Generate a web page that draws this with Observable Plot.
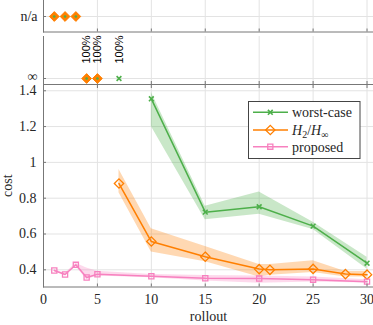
<!DOCTYPE html>
<html><head><meta charset="utf-8">
<script src="https://cdn.jsdelivr.net/npm/d3@7"></script>
<script src="https://cdn.jsdelivr.net/npm/@observablehq/plot@0.6"></script>
<style>
body{margin:0;background:#fff}
#c{position:relative;width:373px;height:325px;overflow:hidden;background:#fff}
#c svg{position:absolute;left:0}
#c svg text{font-family:"Liberation Serif",serif}
#c svg text.sans{font-family:"Liberation Sans",sans-serif}
</style></head><body><div id="c"></div>
<script>
// ---- data ----
const worstX = [10, 15, 20, 25, 30];
const worstY = [1.355, 0.722, 0.752, 0.644, 0.437];
const worstLo = [1.20, 0.68, 0.71, 0.625, 0.405];
const worstHi = [1.39, 0.755, 0.835, 0.665, 0.47];
const h2X = [7, 10, 15, 20, 21, 25, 28, 30];
const h2Y = [0.882, 0.558, 0.473, 0.404, 0.400, 0.405, 0.376, 0.373];
const h2Lo = [0.83, 0.50, 0.445, 0.36, 0.37, 0.385, 0.36, 0.36];
const h2Hi = [0.96, 0.63, 0.53, 0.43, 0.43, 0.45, 0.39, 0.39];
const propX = [1, 2, 3, 4, 5, 10, 15, 20, 25, 30];
const propY = [0.396, 0.374, 0.428, 0.357, 0.375, 0.364, 0.353, 0.351, 0.345, 0.334];
const propLo = [0.390, 0.369, 0.420, 0.345, 0.365, 0.355, 0.338, 0.325, 0.332, 0.326];
const propHi = [0.402, 0.379, 0.436, 0.410, 0.392, 0.374, 0.368, 0.366, 0.360, 0.345];
const naWorstX = [1, 2, 3];
const naH2X = [1, 2, 3];
const infWorstX = [4, 5, 7];
const infH2X = [4, 5];
const failLabels = ["100%", "100%", "100%"];
const failX = [4, 5, 7];
const xTicks = [0, 5, 10, 15, 20, 25, 30];
const yTicks = [0.4, 0.6, 0.8, 1, 1.2, 1.4];
const seriesNames = ["worst-case", "H2/H∞", "proposed"];

// ---- styling ----
const green = "#4daf4a", orange = "#ff7f00", pink = "#f781bf";
const serif = "Liberation Serif";
const sans = "Liberation Sans";
const gridC = "#e3e3e3", axisC = "#777", textC = "#262626";
const W = 373, xDom = [0, 30.6], yDom = [0.304, 1.435];
const style = {background: "transparent", color: textC, overflow: "visible"};

const rows = (xs, ys, lo, hi) => xs.map((x, i) => ({x, y: ys[i], lo: lo ? lo[i] : null, hi: hi ? hi[i] : null}));
const worst = rows(worstX, worstY, worstLo, worstHi);
const h2 = rows(h2X, h2Y, h2Lo, h2Hi);
const prop = rows(propX, propY, propLo, propHi);

const cont = document.getElementById("c");
function place(svg, t) { svg.style.top = t + "px"; cont.appendChild(svg); return svg; }

// ---- top panel: n/a ----
const topPanel = Plot.plot({
  width: W, height: 36, marginTop: 0, marginBottom: 4.5, marginLeft: 43, marginRight: 0,
  x: {domain: xDom}, y: {type: "point", domain: ["n/a"]}, style,
  marks: [
    Plot.gridX(xTicks.slice(1), {stroke: gridC, strokeOpacity: 1}),
    Plot.gridY(["n/a"], {stroke: gridC, strokeOpacity: 1}),
    Plot.frame({anchor: "left", stroke: axisC}),
    Plot.frame({anchor: "bottom", stroke: axisC}),
    Plot.axisX(xTicks, {anchor: "bottom", tickSize: -3, stroke: axisC, tickFormat: () => "", label: null}),
    Plot.axisY(["n/a"], {anchor: "left", tickSize: -3, stroke: axisC, tickPadding: 9, fontSize: 14, fontFamily: serif, fill: textC, label: null}),
    Plot.dot(naH2X, {x: d => d, y: () => "n/a", symbol: "diamond2", r: 4.4, fill: orange, stroke: orange, strokeWidth: 1}),
    Plot.dot(naWorstX, {x: d => d, y: () => "n/a", r: 1.3, fill: green, stroke: null})
  ]
});
place(topPanel, 0);

// ---- middle panel: infinity ----
const midPanel = Plot.plot({
  width: W, height: 56, marginTop: 4, marginBottom: 4, marginLeft: 43, marginRight: 0,
  x: {domain: xDom}, y: {type: "point", domain: ["∞"], range: [41, 51]}, style,
  marks: [
    Plot.gridX(xTicks.slice(1), {stroke: gridC, strokeOpacity: 1}),
    Plot.gridY(["∞"], {stroke: gridC, strokeOpacity: 1}),
    Plot.frame({anchor: "left", stroke: axisC}),
    Plot.frame({anchor: "bottom", stroke: axisC}),
    Plot.axisX(xTicks, {anchor: "bottom", tickSize: -3, stroke: axisC, tickFormat: () => "", label: null}),
    Plot.axisY(["∞"], {anchor: "left", tickSize: 0, tickPadding: 6, fontSize: 14, fontFamily: serif, fill: textC, dy: -1.5, label: null}),
    Plot.axisY(["∞"], {anchor: "left", tickSize: -3, stroke: axisC, tickFormat: () => "", label: null}),
    Plot.dot(infWorstX.filter(x => !infH2X.includes(x)), {x: d => d, y: () => "∞", symbol: "times", r: 2.3, stroke: green, strokeWidth: 1.6}),
    Plot.dot(infH2X, {x: d => d, y: () => "∞", symbol: "diamond2", r: 4.4, fill: orange, stroke: orange, strokeWidth: 1}),
    Plot.dot(infWorstX.filter(x => infH2X.includes(x)), {x: d => d, y: () => "∞", r: 1.3, fill: green, stroke: null}),
    Plot.text(failX, {x: d => d, y: () => "∞", text: (d, i) => failLabels[i], rotate: -90, textAnchor: "start", dy: -15,
      fontFamily: sans, fontSize: 11, fill: "#000"})
  ]
});
place(midPanel, 32);
d3.select(midPanel).selectAll("g[aria-label=text] text").classed("sans", true);

// ---- main panel ----
const mainPanel = Plot.plot({
  width: W, height: 245, marginTop: 4, marginBottom: 38.5, marginLeft: 43, marginRight: 0,
  x: {domain: xDom}, y: {domain: yDom}, style,
  marks: [
    Plot.gridX(xTicks.slice(1), {stroke: gridC, strokeOpacity: 1}),
    Plot.gridY(yTicks, {stroke: gridC, strokeOpacity: 1}),
    Plot.areaY(worst, {x: "x", y1: "lo", y2: "hi", fill: green, fillOpacity: 0.3}),
    Plot.areaY(h2, {x: "x", y1: "lo", y2: "hi", fill: orange, fillOpacity: 0.3}),
    Plot.areaY(prop, {x: "x", y1: "lo", y2: "hi", fill: pink, fillOpacity: 0.3}),
    Plot.line(worst, {x: "x", y: "y", stroke: green, strokeWidth: 1.5}),
    Plot.dot(worst, {x: "x", y: "y", symbol: "times", r: 2.3, stroke: green, strokeWidth: 1.6}),
    Plot.line(h2, {x: "x", y: "y", stroke: orange, strokeWidth: 1.5}),
    Plot.dot(h2, {x: "x", y: "y", symbol: "diamond2", r: 4.2, stroke: orange, fill: "white", fillOpacity: 0, strokeWidth: 1.3}),
    Plot.line(prop, {x: "x", y: "y", stroke: pink, strokeWidth: 1.5}),
    Plot.dot(prop, {x: "x", y: "y", symbol: "square", r: 2.9, stroke: pink, strokeWidth: 1.3}),
    Plot.frame({anchor: "left", stroke: axisC}),
    Plot.frame({anchor: "bottom", stroke: axisC}),
    Plot.frame({anchor: "top", stroke: axisC}),
    Plot.axisX(xTicks, {anchor: "bottom", tickSize: -3, stroke: axisC, tickFormat: () => "", label: null}),
    Plot.axisX(xTicks, {anchor: "top", tickSize: -3, stroke: axisC, tickFormat: () => "", label: null}),
    Plot.axisX(xTicks, {anchor: "bottom", tickSize: 0, tickPadding: 7, fontSize: 14, fontFamily: serif, fill: textC,
      label: "rollout", labelAnchor: "center", labelArrow: "none", labelOffset: 34}),
    Plot.axisY(yTicks, {anchor: "left", tickSize: -3, stroke: axisC, tickFormat: () => "", label: null}),
    Plot.axisY(yTicks, {anchor: "left", tickSize: 0, tickPadding: 7, fontSize: 14, fontFamily: serif, fill: textC, tickFormat: d => String(d),
      label: "cost", labelAnchor: "center", labelArrow: "none", labelOffset: 41})
  ]
});
place(mainPanel, 80);

// ---- legend (drawn on the main svg) ----
const sv = d3.select(mainPanel);
const lg = sv.append("g").attr("font-family", serif).attr("font-size", 14).attr("fill", textC).attr("text-anchor", "start");
lg.append("rect").attr("x", 248.5).attr("y", 21.5).attr("width", 111.5).attr("height", 57)
  .attr("fill", "white").attr("stroke", "#444").attr("stroke-width", 1);
const entries = [
  {color: green, sym: d3.symbolTimes, r: 2.3, fill: "none", sw: 1.6},
  {color: orange, sym: d3.symbolDiamond2, r: 4.2, fill: "none", sw: 1.3},
  {color: pink, sym: d3.symbolSquare, r: 2.9, fill: "none", sw: 1.3}
];
const rowY = [32.3, 50, 66.7];
entries.forEach((e, i) => {
  const y = rowY[i];
  lg.append("line").attr("x1", 253).attr("x2", 288).attr("y1", y).attr("y2", y)
    .attr("stroke", e.color).attr("stroke-width", 1.5);
  lg.append("path").attr("d", d3.symbol(e.sym, Math.PI * e.r * e.r)())
    .attr("transform", `translate(270.3,${y})`).attr("fill", e.fill)
    .attr("stroke", e.color).attr("stroke-width", e.sw);
  const t = lg.append("text").attr("x", 292).attr("y", y).attr("dy", "0.35em");
  if (i === 1) {
    t.append("tspan").attr("font-style", "italic").text("H");
    t.append("tspan").attr("font-size", 10).attr("dy", 3).text("2");
    t.append("tspan").attr("dy", -3).text("/");
    t.append("tspan").attr("font-style", "italic").text("H");
    t.append("tspan").attr("font-size", 10).attr("dy", 3).text("∞");
  } else {
    t.text(seriesNames[i]);
  }
});
</script></body></html>
